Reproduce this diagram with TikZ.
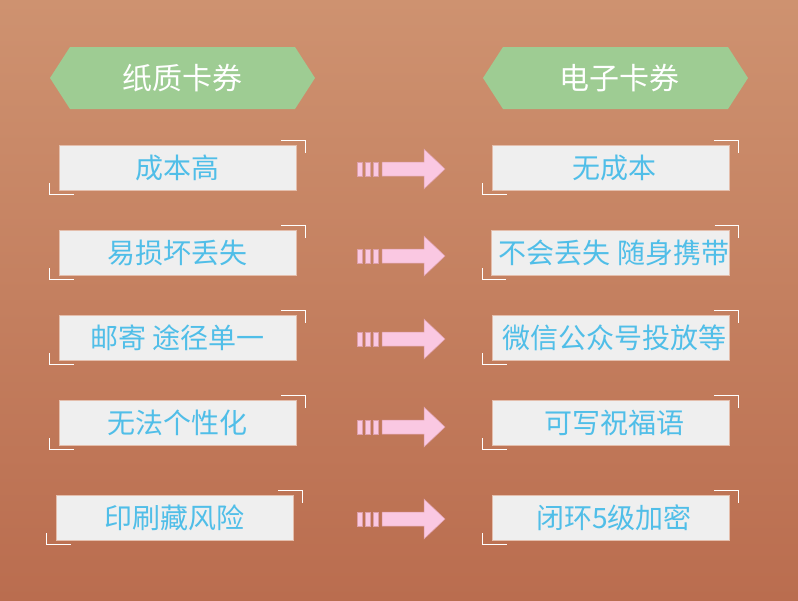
\documentclass[tikz,border=0pt]{standalone}
\usepackage{fontspec}
\newfontfamily\cjk{Noto Sans CJK SC}
\usetikzlibrary{calc,positioning}

\definecolor{bgtop}{RGB}{206,146,112}
\definecolor{bgbot}{RGB}{186,109,79}
\definecolor{hexgreen}{RGB}{158,204,147}
\definecolor{boxgray}{RGB}{239,239,239}
\definecolor{boxline}{RGB}{228,190,172}
\definecolor{txtblue}{RGB}{80,190,232}
\definecolor{arrowpink}{RGB}{250,200,226}
\definecolor{arrowline}{RGB}{222,160,170}

\tikzset{
  cardbox/.style={draw=boxline,line width=0.8pt,fill=boxgray,minimum width=237pt,minimum height=45pt,inner sep=0pt,text=txtblue,font=\cjk\fontsize{28}{28}\selectfont},
  headtext/.style={text=white,font=\cjk\fontsize{30}{30}\selectfont,inner sep=0pt},
  corner/.style={draw=white,line width=1.6pt},
  arrowpart/.style={fill=arrowpink,draw=arrowline,line width=0.5pt}
}

\begin{document}
\begin{tikzpicture}[x=1pt,y=-1pt]
\shade[top color=bgtop,bottom color=bgbot] (0,0) rectangle (798,600);
\useasboundingbox (0,0) rectangle (798,600);
% headers
\fill[hexgreen] (50,78) -- (70,47) -- (295,47) -- (315,78) -- (295,109) -- (70,109) -- cycle;
\fill[hexgreen] (483,78) -- (503,47) -- (728,47) -- (748,78) -- (728,109) -- (503,109) -- cycle;
\node[headtext] (paper) at (182.5,78) {纸质卡券};
\node[headtext] (ecard) at (619,78) {电子卡券};
% rows
\foreach \y/\xl/\ya/\lt/\rt [count=\i] in {167.5/177.5/169/成本高/无成本,
    252.5/177.5/256/易损坏丢失/不会丢失 随身携带,
    337.5/177.5/339/邮寄 途径单一/微信公众号投放等,
    422.5/177.5/427/无法个性化/可写祝福语,
    517.5/174.5/519/印刷藏风险/闭环5级加密}
{
  \node[cardbox] (p\i) at (\xl,\y) {\lt};
  \node[cardbox] (e\i) at (610.5,\y) {\hspace{7pt}\rt};
  \draw[corner] ($(p\i.north east)+(-15,-4)$) -| ($(p\i.north east)+(9,8)$);
  \draw[corner] ($(p\i.south west)+(-9,-7)$) |- ($(p\i.south west)+(15,4)$);
  \draw[corner] ($(e\i.north east)+(-15,-4)$) -| ($(e\i.north east)+(9,8)$);
  \draw[corner] ($(e\i.south west)+(-9,-7)$) |- ($(e\i.south west)+(15,4)$);
  % arrow
  \filldraw[arrowpart] (357,\ya-7) rectangle (362,\ya+7);
  \filldraw[arrowpart] (365,\ya-7) rectangle (370,\ya+7);
  \filldraw[arrowpart] (373,\ya-7) rectangle (378,\ya+7);
  \filldraw[arrowpart] (382,\ya-7) -- (424,\ya-7) -- (424,\ya-20) -- (445,\ya)
    -- (424,\ya+20) -- (424,\ya+7) -- (382,\ya+7) -- cycle;
}
\end{tikzpicture}
\end{document}
